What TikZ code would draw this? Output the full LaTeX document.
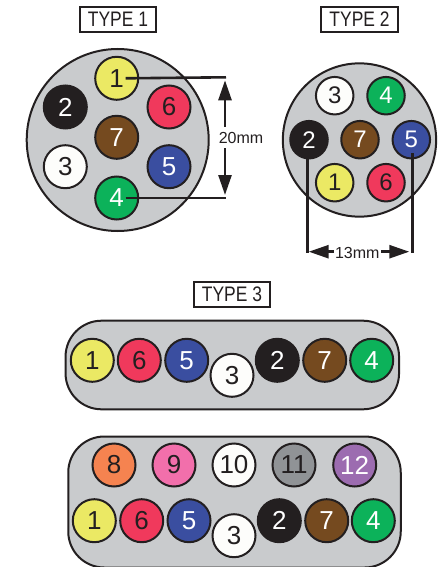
\documentclass[tikz,border=0pt]{standalone}
\usepackage{fontspec}
\setmainfont{Liberation Sans}
\newfontfamily\narrowfont[FakeStretch=0.83]{Liberation Sans}
\usetikzlibrary{arrows.meta,positioning}
\usetikzlibrary{shapes}

\definecolor{bodygrey}{HTML}{C9CBCD}
\definecolor{pinblack}{HTML}{231F20}

\begin{document}
\begin{tikzpicture}[x=1pt,y=-1pt,
		>={Triangle[length=20pt,width=13pt]},
		main node/.style={circle,draw=pinblack,line width=2pt,minimum size=43pt,inner sep=0pt,font=\fontsize{26}{26}\selectfont},
		small node/.style={main node,minimum size=37.5pt,font=\fontsize{24}{24}\selectfont},
		body node/.style={draw=pinblack,line width=2pt,fill=bodygrey,inner sep=0pt},
		type node/.style={draw=pinblack,line width=2pt,fill=white,minimum width=76.6pt,minimum height=25.6pt,inner sep=0pt,text=pinblack,font=\narrowfont\fontsize{21}{21}\selectfont},
		size node/.style={fill=white,inner xsep=1pt,inner ysep=5pt,text=pinblack,font=\fontsize{16}{16}\selectfont},
		dim line/.style={draw=pinblack,line width=2.6pt},
		w1/.style={fill={rgb,255:red,235;green,233;blue,100},text=pinblack},
		w2/.style={fill=pinblack,text=white},
		w3/.style={fill={rgb,255:red,253;green,253;blue,251},text=pinblack},
		w4/.style={fill={rgb,255:red,12;green,178;blue,90},text=white},
		w5/.style={fill={rgb,255:red,58;green,78;blue,160},text=white},
		w6/.style={fill={rgb,255:red,240;green,57;blue,92},text=pinblack},
		w7/.style={fill={rgb,255:red,117;green,74;blue,31},text=white},
		w8/.style={fill={rgb,255:red,245;green,131;blue,80},text=pinblack},
		w9/.style={fill={rgb,255:red,242;green,111;blue,171},text=pinblack},
		w10/.style={fill={rgb,255:red,253;green,253;blue,251},text=pinblack},
		w11/.style={fill={rgb,255:red,144;green,147;blue,150},text=pinblack},
		w12/.style={fill={rgb,255:red,156;green,108;blue,176},text=white}]
		
		\useasboundingbox (0,0) rectangle (443,567);
		
		% type 1
		\node[type node] (type1) at (118,19.5) {TYPE 1};
		\node[body node,circle,minimum size=182pt] (body1) at (117.7,140) {};
		\node[main node,w1] (a1) at (116.7,78.3) {1};
		\node[main node,w2] (a2) at (65.3,107) {2};
		\node[main node,w6] (a6) at (169,107) {6};
		\node[main node,w7] (a7) at (116.7,137.3) {7};
		\node[main node,w3] (a3) at (65.3,166.7) {3};
		\node[main node,w5] (a5) at (169,166.7) {5};
		\node[main node,w4] (a4) at (116.7,198) {4};
		
		\coordinate (atop) at (226,77.3);
		\coordinate (abot) at (226,198);
		\path[dim line]
		([xshift=9pt]a1.center) edge (atop)
		([xshift=9pt]a4.center) edge (abot);
		\draw[dim line,<->,shorten <=3pt,shorten >=3pt] ([xshift=-1pt]atop) -- ([xshift=-1pt]abot);
		\node[size node] (size1) at (241,137.7) {20mm};
		
		% type 2
		\node[type node] (type2) at (359.5,19.5) {TYPE 2};
		\node[body node,circle,minimum size=153.3pt] (body2) at (359.5,140) {};
		\node[small node,w3] (b3) at (334.7,95.7) {3};
		\node[small node,w4] (b4) at (386,95.7) {4};
		\node[small node,w2] (b2) at (309,139.7) {2};
		\node[small node,w7] (b7) at (360,139.7) {7};
		\node[small node,w5] (b5) at (411.3,139.7) {5};
		\node[small node,w1] (b1) at (334.7,182.7) {1};
		\node[small node,w6] (b6) at (386,182.7) {6};
		
		\coordinate (bleft) at (307.7,253);
		\coordinate (bright) at (412.3,253);
		\path[dim line]
		([shift={(-1.3,18.3)}]b2.center) edge (bleft)
		([shift={(1,13.3)}]b5.center) edge (bright);
		\draw[dim line,<->,shorten <=1pt,shorten >=3pt] ([yshift=1.3pt]bleft) -- ([yshift=1.3pt]bright);
		\node[size node,inner ysep=1pt] (size2) at (357.3,252.7) {13mm};
		
		% type 3
		\node[type node] (type3) at (232,294.5) {TYPE 3};
		\node[body node,rounded corners=36pt,minimum width=333.5pt,minimum height=88.6pt] (body3) at (232.3,365) {};
		\node[main node,w1] (c1) at (92.3,360.3) {1};
		\node[main node,w6] (c6) at (139.3,360.3) {6};
		\node[main node,w5] (c5) at (186.7,360.3) {5};
		\node[main node,w3] (c3) at (232,375.3) {3};
		\node[main node,w2] (c2) at (277.3,360.3) {2};
		\node[main node,w7] (c7) at (324.7,360.3) {7};
		\node[main node,w4] (c4) at (371.7,360.3) {4};
		
		% type 3, two rows
		\node[body node,rounded corners=36pt,minimum width=332.5pt,minimum height=131pt] (body4) at (234.5,502) {};
		\node[main node,w8] (d8) at (114,465) {8};
		\node[main node,w9] (d9) at (174,465) {9};
		\node[main node,w10] (d10) at (234,465) {10};
		\node[main node,w11] (d11) at (294,465) {11};
		\node[main node,w12] (d12) at (354.7,465) {12};
		\node[main node,w1] (d1) at (94.3,520.7) {1};
		\node[main node,w6] (d6) at (141.7,520.7) {6};
		\node[main node,w5] (d5) at (189,520.7) {5};
		\node[main node,w3] (d3) at (234,535.7) {3};
		\node[main node,w2] (d2) at (279.3,520.7) {2};
		\node[main node,w7] (d7) at (326.7,520.7) {7};
		\node[main node,w4] (d4) at (373.3,520.7) {4};
		\end{tikzpicture}
\end{document}
